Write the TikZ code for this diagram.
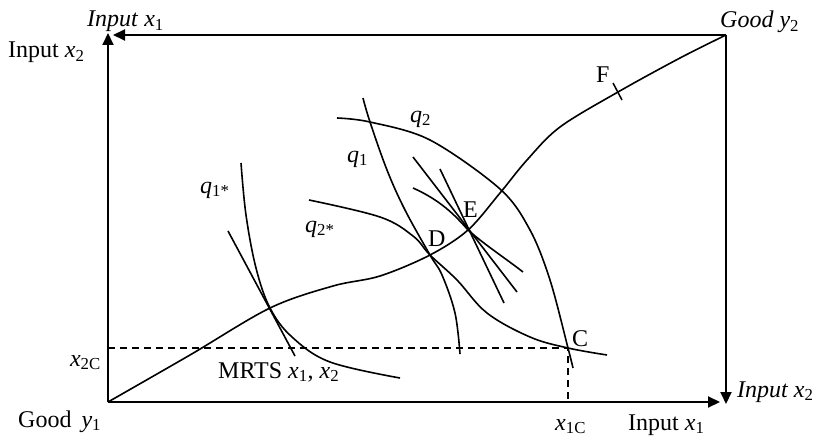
\documentclass[tikz,border=0pt]{standalone}
\usepackage{fontspec}
\setmainfont{Liberation Serif}
\usetikzlibrary{arrows.meta}
\newcommand{\vx}[1]{\textit{x}\textsubscript{#1}}
\begin{document}
\begin{tikzpicture}[x=1pt,y=-1pt,
  axis/.style={line width=2pt,-{Triangle[length=12pt,width=11pt]}},
  crv/.style={line width=1.6pt},
  tan/.style={line width=1.6pt},
  dsh/.style={line width=1.4pt,dash pattern=on 7pt off 5pt},
  lbl/.style={font=\fontsize{24}{28}\selectfont,inner sep=0pt}]
\useasboundingbox (0,0) rectangle (817,436);
% frame coordinates
\coordinate (O) at (108,402);
\coordinate (TR) at (726,35);
\coordinate (TLh) at (113,35);
\coordinate (TLv) at (108,33);
\coordinate (BRh) at (720,402);
\coordinate (BRv) at (726,404);
\draw[axis] (TR) -- (TLh);
\draw[axis] (O) -- (TLv);
\draw[axis] (O) -- (BRh);
\draw[axis] (TR) -- (BRv);
% labels
\node[lbl,anchor=base west] (inx1top) at (87,27) {\textit{Input} \vx{1}};
\node[lbl,anchor=base west] (inx2left) at (8,58) {Input \vx{2}};
\node[lbl,anchor=base west] (goody2) at (720,28) {\textit{Good y}\textsubscript{2}};
\node[lbl,anchor=base west] (goody1) at (18,427) {Good\, \textit{y}\textsubscript{1}};
\node[lbl,anchor=base west] (inx1bot) at (628,430) {Input \vx{1}};
\node[lbl,anchor=base west] (inx2right) at (737,397) {\textit{Input x}\textsubscript{2}};
\node[lbl,anchor=base west] (x1c) at (555,430) {\textit{x}\textsubscript{1C}};
\node[lbl,anchor=base east] (x2c) at (101,366) {\textit{x}\textsubscript{2C}};
\node[lbl,anchor=base west] (mrts) at (218,378) {MRTS \vx{1}, \vx{2}};
\node[lbl,anchor=base west] (q2) at (410,122) {\textit{q}\textsubscript{2}};
\node[lbl,anchor=base west] (q1) at (347,162) {\textit{q}\textsubscript{1}};
\node[lbl,anchor=base west] (q1s) at (200,193) {\textit{q}\textsubscript{1*}};
\node[lbl,anchor=base west] (q2s) at (305,232) {\textit{q}\textsubscript{2*}};
\node[lbl,anchor=base west] (Dl) at (428,246) {D};
\node[lbl,anchor=base west] (El) at (463,217) {E};
\node[lbl,anchor=base west] (Fl) at (596,82) {F};
\node[lbl,anchor=base west] (Cl) at (572,346) {C};
% points
\coordinate (C) at (568,348);
\coordinate (D) at (430,255);
\coordinate (E) at (468,230);
\coordinate (T) at (270,308);
% dashed lines
\coordinate (x2cL) at (108,348);
\coordinate (x1cB) at (568,401);
\draw[dsh] (x2cL) -- (C) -- (x1cB);
% contract curve
\draw[crv] plot[smooth,tension=0.55] coordinates {(108,402) (190,355) (270,308) (333,286) (380,276) (D) (E) (500,193) (527,160) (560,127) (618,92) (680,58) (726,35)};
% F tick
\coordinate (F1) at (613,83);
\coordinate (F2) at (622,100);
\draw[line width=1.5pt] (F1) -- (F2);
% q1* isoquant and MRTS tangent
\draw[crv] plot[smooth,tension=0.6] coordinates {(241,163) (246,215) (256,268) (T) (292,337) (330,362) (400,378)};
\coordinate (m1) at (228,231);
\coordinate (m2) at (295,356);
\draw[tan] (m1) -- (m2);
% q2* isoquant
\draw[crv] plot[smooth,tension=0.6] coordinates {(309,200) (380,217) (413,236) (D) (457,280) (487,313) (530,337) (C) (607,355)};
% q1 isoquant
\draw[crv] plot[smooth,tension=0.6] coordinates {(363,98) (370,122) (387,170) (405,210) (D) (442,275) (455,313) (460,354)};
% q2 isoquant
\draw[crv] plot[smooth,tension=0.55] coordinates {(337,118) (370,122) (430,140) (500,189) (530,230) (550,280) (C) (573,368)};
% tangents at E
\coordinate (e1a) at (413,157); \coordinate (e1b) at (517,292);
\coordinate (e2a) at (440,169); \coordinate (e2b) at (504,303);
\coordinate (e3a) at (413,188); \coordinate (e3b) at (523,272);
\draw[tan] (e1a) -- (e1b);
\draw[tan] (e2a) -- (e2b);
\draw[tan] (e3a) .. controls (440,200) and (455,215) .. (E) .. controls (485,245) and (505,258) .. (e3b);
\end{tikzpicture}
\end{document}
